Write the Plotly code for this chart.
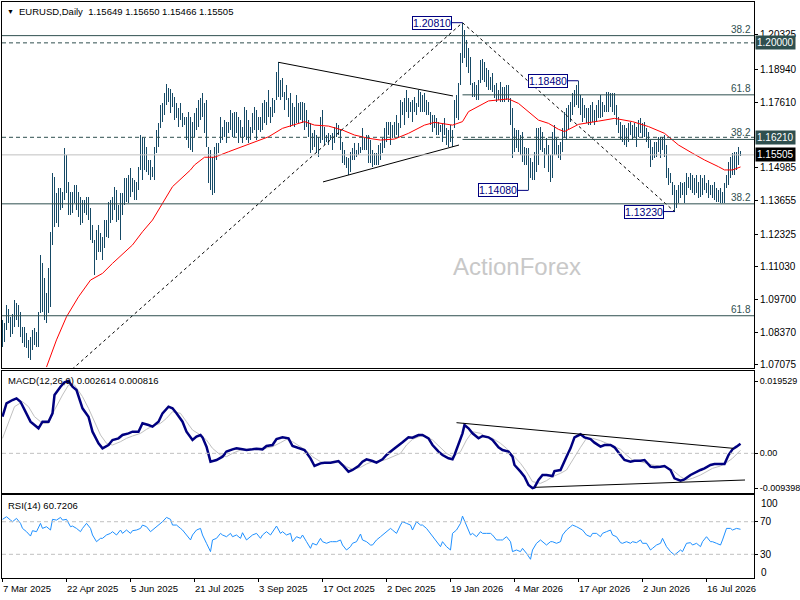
import plotly.graph_objects as go

# ---------------- data ----------------
date_labels = ["7 Mar 2025", "22 Apr 2025", "5 Jun 2025", "21 Jul 2025", "3 Sep 2025",
               "17 Oct 2025", "2 Dec 2025", "19 Jan 2026", "4 Mar 2026", "17 Apr 2026",
               "2 Jun 2026", "16 Jul 2026"]
date_idx = [0, 32, 64, 96, 128, 160, 192, 224, 256, 288, 320, 352]

bar_high = [
    1.0888, 1.0875, 1.0948, 1.0931, 1.0901, 1.0912, 1.0968, 1.0955, 1.0948, 1.0921,
    1.0861, 1.0861, 1.0834, 1.0808, 1.0821, 1.0848, 1.0854, 1.0841, 1.0921, 1.1149,
    1.1115, 1.1055, 1.0995, 1.1095, 1.1242, 1.1477, 1.1463, 1.1396, 1.1416, 1.1416,
    1.1403, 1.1577, 1.1550, 1.1443, 1.1403, 1.1403, 1.1430, 1.1430, 1.1403, 1.1383,
    1.1370, 1.1370, 1.1383, 1.1383, 1.1336, 1.1269, 1.1209, 1.1249, 1.1269, 1.1236,
    1.1222, 1.1289, 1.1289, 1.1363, 1.1370, 1.1383, 1.1423, 1.1410, 1.1350, 1.1396,
    1.1396, 1.1456, 1.1456, 1.1470, 1.1496, 1.1456, 1.1450, 1.1443, 1.1503, 1.1630,
    1.1624, 1.1617, 1.1584, 1.1530, 1.1530, 1.1503, 1.1584, 1.1650, 1.1677, 1.1751,
    1.1757, 1.1798, 1.1835, 1.1818, 1.1814, 1.1798, 1.1784, 1.1757, 1.1737, 1.1757,
    1.1717, 1.1704, 1.1704, 1.1724, 1.1704, 1.1684, 1.1717, 1.1737, 1.1771, 1.1777,
    1.1797, 1.1757, 1.1771, 1.1583, 1.1570, 1.1543, 1.1583, 1.1597, 1.1597, 1.1704,
    1.1664, 1.1690, 1.1684, 1.1684, 1.1731, 1.1717, 1.1724, 1.1724, 1.1704, 1.1690,
    1.1664, 1.1744, 1.1731, 1.1690, 1.1664, 1.1717, 1.1744, 1.1731, 1.1704, 1.1704,
    1.1757, 1.1771, 1.1764, 1.1811, 1.1744, 1.1777, 1.1771, 1.1884, 1.1922, 1.1851,
    1.1858, 1.1804, 1.1831, 1.1777, 1.1797, 1.1757, 1.1744, 1.1791, 1.1757, 1.1764,
    1.1764, 1.1757, 1.1731, 1.1690, 1.1677, 1.1637, 1.1650, 1.1630, 1.1624, 1.1704,
    1.1731, 1.1664, 1.1630, 1.1637, 1.1630, 1.1637, 1.1664, 1.1677, 1.1670, 1.1650,
    1.1603, 1.1570, 1.1543, 1.1537, 1.1563, 1.1577, 1.1597, 1.1570, 1.1597, 1.1583,
    1.1657, 1.1617, 1.1630, 1.1630, 1.1610, 1.1570, 1.1557, 1.1557, 1.1590, 1.1597,
    1.1617, 1.1657, 1.1684, 1.1684, 1.1684, 1.1670, 1.1684, 1.1711, 1.1677, 1.1771,
    1.1764, 1.1777, 1.1811, 1.1777, 1.1764, 1.1771, 1.1784, 1.1757, 1.1811, 1.1804,
    1.1791, 1.1797, 1.1771, 1.1764, 1.1724, 1.1711, 1.1711, 1.1697, 1.1684, 1.1670,
    1.1677, 1.1697, 1.1657, 1.1650, 1.1670, 1.1650, 1.1771, 1.1791, 1.1838, 1.1960,
    1.2081, 1.2052, 1.2012, 1.1978, 1.1945, 1.1838, 1.1844, 1.1831, 1.1851, 1.1931,
    1.1934, 1.1924, 1.1898, 1.1891, 1.1864, 1.1878, 1.1831, 1.1838, 1.1811, 1.1844,
    1.1824, 1.1824, 1.1831, 1.1831, 1.1777, 1.1737, 1.1657, 1.1650, 1.1650, 1.1630,
    1.1644, 1.1584, 1.1577, 1.1577, 1.1537, 1.1523, 1.1563, 1.1657, 1.1657, 1.1664,
    1.1644, 1.1577, 1.1617, 1.1590, 1.1550, 1.1644, 1.1670, 1.1617, 1.1590, 1.1604,
    1.1657, 1.1724, 1.1737, 1.1751, 1.1764, 1.1797, 1.1811, 1.1831, 1.1848, 1.1791,
    1.1777, 1.1751, 1.1737, 1.1737, 1.1751, 1.1764, 1.1731, 1.1751, 1.1771, 1.1791,
    1.1764, 1.1751, 1.1804, 1.1804, 1.1797, 1.1797, 1.1797, 1.1751, 1.1704, 1.1684,
    1.1670, 1.1670, 1.1657, 1.1677, 1.1684, 1.1670, 1.1677, 1.1664, 1.1690, 1.1697,
    1.1677, 1.1684, 1.1657, 1.1644, 1.1610, 1.1583, 1.1603, 1.1603, 1.1623, 1.1623,
    1.1623, 1.1630, 1.1590, 1.1496, 1.1476, 1.1443, 1.1430, 1.1409, 1.1430, 1.1443,
    1.1436, 1.1443, 1.1476, 1.1463, 1.1476, 1.1470, 1.1456, 1.1470, 1.1443, 1.1470,
    1.1456, 1.1470, 1.1436, 1.1450, 1.1430, 1.1430, 1.1443, 1.1416, 1.1409, 1.1416,
    1.1403, 1.1436, 1.1470, 1.1523, 1.1543, 1.1557, 1.1563, 1.1563, 1.1583, 1.1565,
]
bar_low = [
    1.0778, 1.0801, 1.0848, 1.0875, 1.0821, 1.0832, 1.0861, 1.0888, 1.0861, 1.0821,
    1.0794, 1.0781, 1.0774, 1.0734, 1.0727, 1.0768, 1.0788, 1.0781, 1.0781, 1.0915,
    1.0921, 1.0888, 1.0875, 1.0915, 1.0942, 1.1189, 1.1262, 1.1276, 1.1262, 1.1329,
    1.1336, 1.1370, 1.1396, 1.1309, 1.1309, 1.1316, 1.1356, 1.1329, 1.1303, 1.1269,
    1.1276, 1.1316, 1.1309, 1.1289, 1.1209, 1.1196, 1.1069, 1.1129, 1.1162, 1.1162,
    1.1129, 1.1176, 1.1222, 1.1216, 1.1276, 1.1289, 1.1329, 1.1283, 1.1289, 1.1209,
    1.1309, 1.1350, 1.1363, 1.1356, 1.1383, 1.1403, 1.1370, 1.1370, 1.1410, 1.1490,
    1.1450, 1.1490, 1.1483, 1.1470, 1.1450, 1.1463, 1.1450, 1.1557, 1.1584, 1.1657,
    1.1684, 1.1711, 1.1751, 1.1764, 1.1717, 1.1744, 1.1690, 1.1697, 1.1664, 1.1690,
    1.1664, 1.1670, 1.1610, 1.1580, 1.1570, 1.1563, 1.1624, 1.1650, 1.1664, 1.1690,
    1.1704, 1.1637, 1.1583, 1.1436, 1.1409, 1.1389, 1.1396, 1.1530, 1.1557, 1.1597,
    1.1610, 1.1624, 1.1597, 1.1637, 1.1650, 1.1624, 1.1624, 1.1637, 1.1597, 1.1624,
    1.1597, 1.1624, 1.1610, 1.1597, 1.1610, 1.1637, 1.1650, 1.1610, 1.1650, 1.1644,
    1.1650, 1.1677, 1.1670, 1.1704, 1.1677, 1.1704, 1.1717, 1.1771, 1.1784, 1.1771,
    1.1784, 1.1731, 1.1771, 1.1704, 1.1664, 1.1670, 1.1664, 1.1677, 1.1677, 1.1690,
    1.1677, 1.1650, 1.1664, 1.1624, 1.1557, 1.1570, 1.1583, 1.1557, 1.1543, 1.1597,
    1.1610, 1.1590, 1.1603, 1.1590, 1.1610, 1.1570, 1.1597, 1.1624, 1.1630, 1.1570,
    1.1517, 1.1510, 1.1496, 1.1470, 1.1483, 1.1530, 1.1530, 1.1543, 1.1550, 1.1557,
    1.1570, 1.1570, 1.1570, 1.1517, 1.1517, 1.1503, 1.1510, 1.1510, 1.1510, 1.1530,
    1.1557, 1.1577, 1.1604, 1.1630, 1.1590, 1.1617, 1.1624, 1.1630, 1.1617, 1.1657,
    1.1711, 1.1670, 1.1724, 1.1697, 1.1724, 1.1684, 1.1724, 1.1711, 1.1744, 1.1724,
    1.1724, 1.1724, 1.1711, 1.1711, 1.1670, 1.1644, 1.1657, 1.1630, 1.1630, 1.1644,
    1.1604, 1.1630, 1.1590, 1.1584, 1.1604, 1.1584, 1.1657, 1.1697, 1.1690, 1.1830,
    1.1918, 1.1938, 1.1904, 1.1878, 1.1831, 1.1784, 1.1784, 1.1771, 1.1771, 1.1838,
    1.1851, 1.1844, 1.1824, 1.1811, 1.1811, 1.1804, 1.1777, 1.1764, 1.1771, 1.1764,
    1.1764, 1.1764, 1.1771, 1.1764, 1.1670, 1.1537, 1.1563, 1.1577, 1.1563, 1.1550,
    1.1523, 1.1510, 1.1510, 1.1408, 1.1456, 1.1450, 1.1450, 1.1483, 1.1510, 1.1570,
    1.1563, 1.1497, 1.1550, 1.1483, 1.1443, 1.1456, 1.1550, 1.1550, 1.1537, 1.1530,
    1.1563, 1.1617, 1.1610, 1.1650, 1.1684, 1.1710, 1.1744, 1.1751, 1.1737, 1.1710,
    1.1684, 1.1697, 1.1677, 1.1670, 1.1670, 1.1684, 1.1670, 1.1684, 1.1697, 1.1697,
    1.1704, 1.1724, 1.1724, 1.1724, 1.1744, 1.1724, 1.1710, 1.1670, 1.1637, 1.1610,
    1.1603, 1.1590, 1.1583, 1.1603, 1.1630, 1.1610, 1.1623, 1.1583, 1.1623, 1.1637,
    1.1617, 1.1623, 1.1603, 1.1577, 1.1503, 1.1530, 1.1537, 1.1543, 1.1563, 1.1537,
    1.1570, 1.1543, 1.1456, 1.1430, 1.1436, 1.1389, 1.1323, 1.1339, 1.1356, 1.1376,
    1.1389, 1.1356, 1.1389, 1.1416, 1.1409, 1.1396, 1.1389, 1.1396, 1.1376, 1.1383,
    1.1389, 1.1409, 1.1396, 1.1376, 1.1389, 1.1376, 1.1369, 1.1363, 1.1363, 1.1356,
    1.1356, 1.1356, 1.1416, 1.1430, 1.1456, 1.1470, 1.1470, 1.1490, 1.1510, 1.1547,
]

ma_idx = [22, 27, 32, 38, 44, 50, 55, 65, 70, 75, 80, 85, 94, 96, 101, 106, 113, 120, 125, 133,
          140, 145, 151, 156, 163, 170, 176, 183, 189, 196, 203, 211, 216, 225, 230, 233, 238, 243,
          248, 253, 258, 263, 268, 273, 278, 281, 288, 298, 306, 315, 323, 331, 338, 345, 351, 358,
          361, 365, 369]
ma_val = [1.0699, 1.0808, 1.0901, 1.0981, 1.1048, 1.1075, 1.1115, 1.1189, 1.1242, 1.1289, 1.1356,
          1.1423, 1.1490, 1.1510, 1.1541, 1.1541, 1.1563, 1.1583, 1.1597, 1.1623, 1.1657, 1.1670,
          1.1684, 1.1670, 1.1666, 1.1650, 1.1630, 1.1617, 1.1610, 1.1614, 1.1637, 1.1670, 1.1681,
          1.1670, 1.1684, 1.1724, 1.1744, 1.1767, 1.1771, 1.1775, 1.1757, 1.1724, 1.1690, 1.1677,
          1.1653, 1.1644, 1.1673, 1.1686, 1.1697, 1.1684, 1.1664, 1.1637, 1.1590, 1.1557, 1.1530,
          1.1503, 1.1490, 1.1490, 1.1502]

macd_idx = [0, 2, 5, 7, 9, 11, 14, 16, 18, 20,
            23, 25, 26, 29, 31, 33, 35, 37, 40, 43,
            45, 48, 50, 53, 55, 58, 60, 63, 65, 68,
            70, 73, 75, 78, 80, 83, 85, 87, 90, 92,
            95, 97, 99, 100, 102, 104, 107, 110, 112, 115,
            117, 120, 122, 125, 127, 130, 132, 135, 137, 140,
            143, 145, 148, 151, 154, 156, 159, 161, 164, 166,
            168, 170, 173, 175, 178, 180, 182, 185, 187, 190,
            192, 195, 199, 200, 203, 205, 208, 210, 213, 215,
            218, 220, 223, 225, 226, 228, 230, 231, 233, 235,
            238, 240, 243, 245, 248, 250, 253, 255, 256, 259,
            261, 263, 265, 266, 268, 270, 272, 275, 276, 279,
            280, 282, 284, 286, 289, 291, 294, 296, 299, 301,
            304, 306, 309, 311, 314, 316, 319, 321, 324, 326,
            329, 331, 334, 336, 339, 341, 344, 346, 349, 351,
            354, 356, 359, 361, 363, 365, 367, 369]
macd_val = [0.0099, 0.0135, 0.0144, 0.01485, 0.01395, 0.0117, 0.00855, 0.00765, 0.00675, 0.00855,
            0.00855, 0.0108, 0.01575, 0.0180, 0.0192, 0.01953, 0.0180, 0.0171, 0.01215, 0.0099,
            0.00585, 0.0027, 0.00135, 0.00225, 0.0036, 0.00405, 0.00495, 0.0054, 0.00585, 0.00585,
            0.0081, 0.00765, 0.0072, 0.00855, 0.0108, 0.0126, 0.01215, 0.0108, 0.00855, 0.00585,
            0.0036, 0.0045, 0.00495, 0.00432, 0.0018, -0.00225, -0.0018, -0.0009, 0.00045, 0.00108,
            0.00135, 0.00108, 0.0009, 0.00108, 0.00126, 0.00108, 0.00198, 0.00225, 0.00387, 0.00432,
            0.00405, 0.00198, 0.00135, 0.0009, -0.00135, -0.00342, -0.0027, -0.00252, -0.00252, -0.00234,
            -0.00207, -0.00315, -0.00495, -0.0045, -0.00342, -0.00225, -0.00162, -0.00207, -0.00252, -0.00162,
            -0.00045, 0.0009, 0.0024, 0.0030, 0.00432, 0.00423, 0.00495, 0.00495, 0.00405, 0.00225,
            0.00045, -0.00045, -0.00135, -0.00162, -0.00045, 0.00225, 0.0054, 0.00765, 0.00675, 0.0054,
            0.00405, 0.00468, 0.00432, 0.0036, 0.00162, 0.0009, 0.00045, -0.0009, -0.00315, -0.00495,
            -0.0063, -0.00855, -0.0094, -0.0092, -0.0072, -0.00585, -0.00585, -0.00612, -0.00477, -0.0045,
            -0.00315, -0.0009, 0.00135, 0.00432, 0.00513, 0.00432, 0.00387, 0.00288, 0.0018, 0.00225,
            0.00225, 0.00162, -0.00045, -0.0018, -0.00225, -0.00198, -0.00198, -0.0018, -0.0036, -0.00378,
            -0.0036, -0.00342, -0.0045, -0.00675, -0.00738, -0.00702, -0.00585, -0.00522, -0.0045, -0.00405,
            -0.00315, -0.00288, -0.00297, -0.00288, -0.00045, 0.00108, 0.0018, 0.00261]

signal_idx = [0, 3, 6, 10, 13, 16, 20, 23, 26, 30,
              33, 36, 40, 43, 46, 49, 52, 55, 59, 62,
              65, 69, 72, 75, 79, 82, 85, 89, 92, 95,
              99, 102, 105, 109, 112, 115, 119, 122, 125, 129,
              132, 135, 139, 142, 145, 149, 152, 155, 159, 162,
              165, 169, 172, 175, 179, 182, 185, 189, 192, 195,
              199, 202, 205, 209, 212, 215, 219, 222, 225, 229,
              232, 235, 239, 242, 245, 249, 252, 255, 259, 262,
              265, 269, 272, 275, 279, 282, 285, 289, 292, 295,
              299, 302, 305, 309, 312, 315, 319, 322, 325, 329,
              332, 335, 339, 342, 345, 349, 352, 355, 359, 362,
              365, 369]
signal_val = [0.00405, 0.0081, 0.0126, 0.01395, 0.0126, 0.0099, 0.0081, 0.0081, 0.0117, 0.01575,
              0.01845, 0.01845, 0.0153, 0.01215, 0.00855, 0.00495, 0.0027, 0.00225, 0.00315, 0.00405,
              0.00468, 0.0054, 0.00648, 0.00738, 0.0081, 0.00945, 0.01125, 0.0108, 0.00855, 0.0063,
              0.00495, 0.0036, 0.00135, -0.00045, -0.0009, 0.0, 0.0009, 0.00108, 0.00108, 0.00108,
              0.00135, 0.0018, 0.00288, 0.00378, 0.00315, 0.0018, 0.00072, -0.0009, -0.00225, -0.0027,
              -0.00252, -0.00243, -0.0036, -0.00432, -0.00378, -0.00288, -0.00225, -0.00207, -0.00162, -0.0009,
              0.0, 0.00225, 0.00378, 0.00468, 0.0045, 0.0036, 0.00162, 0.0, -0.0009, 0.00045,
              0.0036, 0.00585, 0.0054, 0.00432, 0.00405, 0.0027, 0.00135, -0.00045, -0.0027, -0.00495,
              -0.00765, -0.0081, -0.00738, -0.0063, -0.0054, -0.0045, -0.0018, 0.00162, 0.00405, 0.00405,
              0.00342, 0.0027, 0.00198, 0.00108, -0.00045, -0.0018, -0.00225, -0.0027, -0.00315, -0.00342,
              -0.00378, -0.0045, -0.0063, -0.0072, -0.00675, -0.00585, -0.00495, -0.00405, -0.00342, -0.00252,
              -0.00135, 0.00082]

rsi_idx = [0, 2, 4, 5, 7, 9, 10, 12, 14, 15,
           17, 19, 20, 22, 24, 25, 27, 29, 30, 32,
           34, 35, 37, 39, 40, 42, 44, 45, 47, 49,
           50, 52, 54, 55, 57, 59, 60, 62, 64, 65,
           67, 69, 70, 72, 74, 75, 77, 79, 80, 82,
           84, 85, 87, 89, 90, 92, 94, 95, 97, 99,
           100, 102, 104, 105, 107, 109, 110, 112, 114, 115,
           117, 119, 120, 122, 124, 125, 127, 129, 130, 132,
           134, 135, 137, 139, 140, 142, 144, 145, 147, 149,
           150, 152, 154, 155, 157, 159, 160, 162, 164, 165,
           167, 169, 170, 172, 174, 175, 177, 179, 180, 182,
           184, 185, 187, 189, 190, 192, 194, 195, 197, 199,
           200, 202, 204, 205, 207, 209, 210, 212, 214, 215,
           217, 219, 220, 222, 224, 225, 227, 229, 230, 232,
           234, 235, 237, 239, 240, 242, 244, 245, 247, 249,
           250, 252, 254, 255, 257, 259, 260, 262, 264, 265,
           267, 269, 270, 272, 274, 275, 277, 279, 280, 282,
           284, 285, 287, 289, 290, 292, 294, 295, 297, 299,
           300, 302, 304, 305, 307, 309, 310, 312, 314, 315,
           317, 319, 320, 322, 324, 325, 327, 329, 330, 332,
           334, 336, 337, 339, 340, 342, 344, 345, 347, 349,
           350, 352, 354, 355, 357, 359, 360, 362, 364, 365,
           367, 369]
rsi_val = [72.9, 76.1, 72.0, 70.0, 74.1, 68.0, 61.8, 57.8, 52.4, 59.0,
           57.8, 68.0, 61.8, 63.9, 59.8, 72.9, 72.0, 75.3, 72.0, 72.9,
           63.9, 64.7, 61.8, 57.8, 61.8, 68.0, 61.8, 53.7, 45.5, 49.6,
           49.6, 53.7, 55.7, 57.8, 53.7, 59.8, 55.7, 59.8, 55.7, 59.0,
           59.8, 61.8, 65.9, 63.9, 57.8, 59.8, 63.9, 68.0, 70.0, 75.3,
           72.9, 65.9, 65.9, 61.8, 59.8, 53.7, 47.6, 53.7, 59.8, 61.8,
           53.7, 43.5, 33.3, 47.6, 49.6, 55.7, 53.7, 51.6, 55.7, 51.6,
           53.7, 49.6, 56.5, 47.6, 52.4, 53.7, 55.7, 49.6, 53.7, 57.8,
           53.7, 57.8, 64.7, 55.7, 57.8, 53.7, 55.7, 45.5, 51.6, 49.6,
           53.7, 45.5, 37.3, 43.5, 41.4, 49.6, 45.5, 43.5, 45.5, 45.5,
           45.5, 47.6, 41.4, 35.3, 39.4, 43.5, 45.5, 54.9, 47.6, 45.5,
           41.4, 41.4, 47.6, 51.6, 53.7, 57.8, 61.8, 59.8, 55.7, 65.9,
           70.0, 68.0, 65.9, 59.8, 70.0, 65.9, 65.9, 61.8, 55.7, 51.6,
           45.5, 39.4, 45.5, 39.4, 35.3, 55.7, 59.8, 68.0, 76.9, 65.9,
           53.7, 55.7, 51.6, 57.8, 55.7, 55.7, 55.7, 53.7, 47.6, 47.6,
           47.6, 51.6, 45.5, 33.3, 35.3, 33.3, 37.3, 31.2, 23.9, 35.3,
           43.5, 47.6, 45.5, 41.4, 45.5, 45.5, 43.5, 45.5, 53.7, 59.8,
           63.9, 65.9, 63.9, 61.8, 59.8, 53.7, 51.6, 55.7, 55.7, 51.6,
           55.7, 57.8, 59.8, 53.7, 51.6, 44.3, 43.5, 45.5, 43.5, 45.5,
           44.3, 47.6, 43.5, 43.5, 35.3, 37.3, 41.4, 43.5, 49.6, 39.4,
           33.3, 29.2, 31.2, 35.3, 33.3, 43.5, 44.3, 41.4, 43.5, 39.4,
           45.5, 51.6, 45.5, 45.5, 43.5, 41.4, 47.6, 61.8, 61.8, 59.8,
           61.8, 60.72]

# chart annotations
price_ticks = [1.20325, 1.18940, 1.17610, 1.14985, 1.13655, 1.12325, 1.11030, 1.09700, 1.08370, 1.07075]
macd_ticks = [0.019529, 0.0, -0.009398]
macd_tick_text = ["0.019529", "0.00", "-0.009398"]
rsi_levels = [70, 30]

fib1_low, fib1_high = 1.0178, 1.2081      # swing low (off chart) -> 1.20810 high
fib1_low_idx, fib1_high_idx = -37, 230
fib2_high, fib2_low = 1.2081, 1.1323      # 1.20810 high -> 1.13230 low
fib2_high_idx, fib2_low_idx = 230, 336
extra_fib_level = 1.2029                  # top 38.2 level
dashed_levels = [1.2000, 1.1621]
last_price = 1.15505

swing_idx = [230, 288, 263, 336]
swing_val = [1.2081, 1.1848, 1.1408, 1.1323]

tri_upper_idx, tri_upper_val = [138, 225.25], [1.1922, 1.1787]
tri_lower_idx, tri_lower_val = [160.25, 228.25], [1.1442, 1.1590]
macd_upper_idx, macd_upper_val = [227, 365.4], [0.00828, 0.00135]
macd_lower_idx, macd_lower_val = [266.25, 371.25], [-0.00918, -0.0072]

# ---------------- styling ----------------
FONT = "Liberation Sans, Arial, sans-serif"
BAR_COLOR = "#164A66"
FIB_COLOR = "#2F4F4F"
NAVY = "#000080"
XR = [-0.25, 375.75]
DOM_MAIN = [0.36458, 1.0]
DOM_MACD = [0.14757, 0.35937]
DOM_RSI = [0.0, 0.14410]

fig = go.Figure()

# daily bars drawn as 1px high-low sticks
bar_range = [h - l for h, l in zip(bar_high, bar_low)]
fig.add_trace(go.Bar(x=list(range(len(bar_high))), y=bar_range, base=bar_low, width=0.4,
                     marker=dict(color=BAR_COLOR, line=dict(width=0)),
                     xaxis="x3", yaxis="y", hoverinfo="skip"))
fig.add_trace(go.Scatter(x=ma_idx, y=ma_val, mode="lines", line=dict(color="#FF0000", width=1),
                         xaxis="x3", yaxis="y", hoverinfo="skip"))

# trend lines
fig.add_trace(go.Scatter(x=[fib1_low_idx, fib1_high_idx], y=[fib1_low, fib1_high], mode="lines",
                         line=dict(color="black", width=1, dash="3px,3px"), xaxis="x3", yaxis="y"))
fig.add_trace(go.Scatter(x=[fib2_high_idx, fib2_low_idx], y=[fib2_high, fib2_low], mode="lines",
                         line=dict(color="black", width=1, dash="3px,3px"), xaxis="x3", yaxis="y"))
fig.add_trace(go.Scatter(x=tri_upper_idx, y=tri_upper_val, mode="lines",
                         line=dict(color="black", width=1), xaxis="x3", yaxis="y"))
fig.add_trace(go.Scatter(x=tri_lower_idx, y=tri_lower_val, mode="lines",
                         line=dict(color="black", width=1), xaxis="x3", yaxis="y"))

# MACD
fig.add_trace(go.Scatter(x=signal_idx, y=signal_val, mode="lines", line=dict(color="#C0C0C0", width=1),
                         xaxis="x2", yaxis="y2"))
fig.add_trace(go.Scatter(x=macd_idx, y=macd_val, mode="lines", line=dict(color=NAVY, width=2.5),
                         xaxis="x2", yaxis="y2"))
fig.add_trace(go.Scatter(x=macd_upper_idx, y=macd_upper_val, mode="lines", line=dict(color="black", width=1),
                         xaxis="x2", yaxis="y2"))
fig.add_trace(go.Scatter(x=macd_lower_idx, y=macd_lower_val, mode="lines", line=dict(color="black", width=1),
                         xaxis="x2", yaxis="y2"))

# RSI
fig.add_trace(go.Scatter(x=rsi_idx, y=rsi_val, mode="lines", line=dict(color="#1E90FF", width=1),
                         xaxis="x", yaxis="y3"))

shapes = []
fib1_levels = [fib1_high - r * (fib1_high - fib1_low) for r in (0.382, 0.618)]
fib2_levels = [fib2_low + r * (fib2_high - fib2_low) for r in (0.382, 0.618)]
for lv in fib1_levels + [extra_fib_level]:
    shapes.append(dict(type="line", xref="paper", x0=0, x1=1, yref="y", y0=lv, y1=lv,
                       line=dict(color=FIB_COLOR, width=1)))
for lv in fib2_levels:
    shapes.append(dict(type="line", xref="x3", x0=fib2_high_idx, x1=XR[1], yref="y", y0=lv, y1=lv,
                       line=dict(color=FIB_COLOR, width=1)))
for lv in dashed_levels:
    shapes.append(dict(type="line", xref="paper", x0=0, x1=1, yref="y", y0=lv, y1=lv,
                       line=dict(color=FIB_COLOR, width=1, dash="4px,3px")))
shapes.append(dict(type="line", xref="paper", x0=0, x1=1, yref="y", y0=last_price, y1=last_price,
                   line=dict(color="#C0C0C0", width=1)))
shapes.append(dict(type="line", xref="paper", x0=0, x1=1, yref="y2", y0=0, y1=0,
                   line=dict(color="#C0C0C0", width=1, dash="4px,3px")))
for lv in rsi_levels:
    shapes.append(dict(type="line", xref="paper", x0=0, x1=1, yref="y3", y0=lv, y1=lv,
                       line=dict(color="#C0C0C0", width=1, dash="4px,3px")))

ann = []
# fib labels
fib_labels = [(fib1_levels[0], "38.2"), (fib1_levels[1], "61.8"), (extra_fib_level, "38.2"),
              (fib2_levels[0], "38.2"), (fib2_levels[1], "61.8")]
for lv, t in fib_labels:
    ann.append(dict(xref="paper", x=1, xanchor="right", xshift=-1, yref="y", y=lv, yanchor="bottom",
                    yshift=-1, text=t, showarrow=False, font=dict(size=10, color=FIB_COLOR)))
# swing price labels
for xi, v in zip(swing_idx, swing_val):
    ann.append(dict(xref="x3", x=xi, yref="y", y=v, text=f"{v:.5f}", showarrow=True, arrowhead=0,
                    arrowwidth=1, arrowcolor=NAVY, ax=-31, ay=0, standoff=0,
                    font=dict(size=10.5, color=NAVY), bordercolor=NAVY, borderwidth=1, borderpad=0,
                    bgcolor="white"))
# axis price boxes
for v, bg in [(dashed_levels[0], FIB_COLOR), (dashed_levels[1], FIB_COLOR), (last_price, "black")]:
    ann.append(dict(xref="paper", x=1, xanchor="left", xshift=1, yref="y", y=v, yanchor="middle",
                    text=f"{v:.5f}", showarrow=False, bgcolor=bg, font=dict(size=10, color="white"),
                    borderpad=1))
# RSI extreme labels
ann.append(dict(xref="paper", x=1, xanchor="left", xshift=5, yref="paper", y=0.1302, yanchor="middle",
                text="100", showarrow=False, font=dict(size=10)))
ann.append(dict(xref="paper", x=1, xanchor="left", xshift=5, yref="paper", y=0.0104, yanchor="middle",
                text="0", showarrow=False, font=dict(size=10)))
# titles
ann.append(dict(xref="paper", x=0, xanchor="left", xshift=3, yref="paper", y=1, yanchor="top", yshift=-4,
                text="▼", showarrow=False, font=dict(size=7, color="black")))
ann.append(dict(xref="paper", x=0, xanchor="left", xshift=15, yref="paper", y=1, yanchor="top", yshift=-2,
                text="EURUSD,Daily\u00a0\u00a01.15649 1.15650 1.15466 1.15505", showarrow=False,
                font=dict(size=9.5, color="black")))
ann.append(dict(xref="paper", x=0, xanchor="left", xshift=4, yref="paper", y=DOM_MACD[1], yanchor="top",
                yshift=-2, text="MACD(12,26,9) 0.002614 0.000816", showarrow=False,
                font=dict(size=9.5, color="black")))
ann.append(dict(xref="paper", x=0, xanchor="left", xshift=4, yref="paper", y=DOM_RSI[1], yanchor="top",
                yshift=-3, text="RSI(14) 60.7206", showarrow=False, font=dict(size=9.5, color="black")))
# watermark
ann.append(dict(xref="paper", x=0.685, xanchor="center", yref="paper", y=0.54, yanchor="middle",
                text="ActionForex", showarrow=False, font=dict(size=24, color="#C8C8C8")))
# date labels
for xi, t in zip(date_idx, date_labels):
    ann.append(dict(xref="x", x=xi, xanchor="left", xshift=-2, yref="paper", y=0, yanchor="top",
                    yshift=-3, text=t, showarrow=False, font=dict(size=9.5, color="black")))

frame = dict(showline=True, mirror=True, linecolor="black", linewidth=1, showgrid=False, zeroline=False,
             automargin=False)
fig.update_layout(
    width=800, height=600, margin=dict(l=2, r=46, t=2, b=22, autoexpand=False),
    paper_bgcolor="white", plot_bgcolor="white", showlegend=False, bargap=0,
    font=dict(family=FONT, size=10, color="black"),
    shapes=shapes, annotations=ann,
    xaxis=dict(domain=[0, 1], anchor="y3", range=XR, tickvals=date_idx, ticks="outside", ticklen=3,
               tickcolor="black", showticklabels=False, **frame),
    xaxis2=dict(domain=[0, 1], anchor="y2", range=XR, showticklabels=False, ticks="", **frame),
    xaxis3=dict(domain=[0, 1], anchor="y", range=XR, showticklabels=False, ticks="", **frame),
    yaxis=dict(domain=DOM_MAIN, anchor="x3", side="right", range=[1.06952, 1.2164],
               tickvals=price_ticks, ticktext=[f"{v:.5f}" for v in price_ticks],
               ticks="outside", ticklen=3, tickcolor="black", tickfont=dict(size=10), **frame),
    yaxis2=dict(domain=DOM_MACD, anchor="x2", side="right", range=[-0.01071, 0.02223],
                tickvals=macd_ticks, ticktext=macd_tick_text,
                ticks="outside", ticklen=3, tickcolor="black", tickfont=dict(size=9), **frame),
    yaxis3=dict(domain=DOM_RSI, anchor="x", side="right", range=[0.92, 102.8],
                tickvals=rsi_levels, ticktext=[str(v) for v in rsi_levels],
                ticks="outside", ticklen=3, tickcolor="black", tickfont=dict(size=10), **frame),
)

fig.write_html("out.html", config={"displayModeBar": False},
               post_script="document.body.style.margin='0px';document.body.style.overflow='hidden';")
